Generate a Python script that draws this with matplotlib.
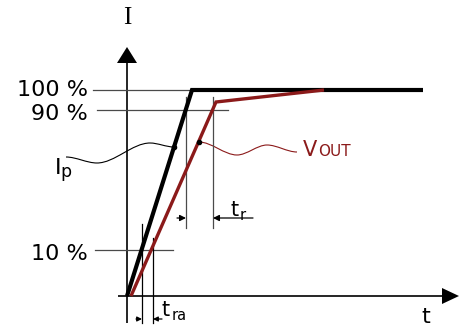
import matplotlib
matplotlib.use("Agg")
import matplotlib.pyplot as plt
from matplotlib.path import Path
from matplotlib.patches import PathPatch, Polygon

# ---- data (time units, level units; origin at axis crossing) ----
ip_t = [0, 65, 296]
ip_level = [0, 206, 206]
vout_t = [4, 89, 197]
vout_level = [0, 194, 206]

level_values = [206, 186, 46]          # positions of 100 %, 90 %, 10 %
level_labels = ["100 %", "90 %", "10 %"]
level_line_start = [-34, -30, -32]
level_line_end = [65, 101, 46]
label_drop = [0, 4, 4]

tr_marks = [59, 86]                   # 90 % crossings
tra_marks = [15, 26]                  # 10 % crossings

RED = "#8b1a1a"
GRAY = "#4a4a4a"

fig = plt.figure(figsize=(4.59, 3.27), dpi=100)
ax = fig.add_axes([0, 0, 1, 1])
ax.set_xlim(-127, 332)
ax.set_ylim(-31, 296)
ax.axis("off")

# axes
ax.plot([0, 0], [-27, 235], color="black", lw=1.2, solid_capstyle="butt")
ax.plot([-9, 318], [0, 0], color="black", lw=1.2, solid_capstyle="butt")
ax.add_patch(Polygon([[0, 249], [-10, 233], [10, 233]], closed=True, color="black", lw=0))
ax.add_patch(Polygon([[332, 0], [315, 8], [315, -8]], closed=True, color="black", lw=0))
ax.text(0, 278, "I", family="Liberation Serif", fontsize=18, ha="center", va="center")
ax.text(299, -21, "t", family="DejaVu Sans", fontsize=16, ha="center", va="center")

# level reference lines and labels
for lv, lab, s, e, d in zip(level_values, level_labels, level_line_start, level_line_end, label_drop):
    ax.plot([s, e], [lv, lv], color=GRAY, lw=0.9)
    ax.text(-39, lv - d, lab, fontsize=16, ha="right", va="center", family="DejaVu Sans")

# tr marker lines
for m in tr_marks:
    ax.plot([m, m], [68, 199], color=GRAY, lw=0.9)
ax.annotate("", xy=(tr_marks[0], 78), xytext=(50, 78),
            arrowprops=dict(arrowstyle="-|>", color="black", lw=0.9, mutation_scale=9, shrinkA=0, shrinkB=0))
ax.annotate("", xy=(tr_marks[1], 78), xytext=(126, 78),
            arrowprops=dict(arrowstyle="-|>", color="black", lw=0.9, mutation_scale=9, shrinkA=0, shrinkB=0))
ax.text(103, 86, "t", fontsize=15, ha="left", va="center")
ax.text(113, 80, "r", fontsize=10.5, ha="left", va="center")

# tra marker lines
ax.plot([tra_marks[0]] * 2, [-27, 72], color="black", lw=0.9)
ax.plot([tra_marks[1]] * 2, [-27, 58], color="black", lw=0.9)
ax.annotate("", xy=(tra_marks[0], -23), xytext=(9, -23),
            arrowprops=dict(arrowstyle="-|>", color="black", lw=0.9, mutation_scale=7, shrinkA=0, shrinkB=0))
ax.annotate("", xy=(tra_marks[1], -23), xytext=(35, -23),
            arrowprops=dict(arrowstyle="-|>", color="black", lw=0.9, mutation_scale=7, shrinkA=0, shrinkB=0))
ax.text(34, -14, "t", fontsize=15, ha="left", va="center")
ax.text(45, -20, "ra", fontsize=10.5, ha="left", va="center")

# signals
ax.plot(ip_t, ip_level, color="black", lw=3.0, solid_joinstyle="miter", solid_capstyle="butt")
ax.plot(vout_t, vout_level, color=RED, lw=2.4, solid_joinstyle="miter", solid_capstyle="butt")

# leader waves
def wave(points, color):
    verts = [points[0]]
    codes = [Path.MOVETO]
    for i in range(len(points) - 1):
        (x0, y0), (x1, y1) = points[i], points[i + 1]
        dx = (x1 - x0) / 3.0
        verts += [(x0 + dx, y0), (x1 - dx, y1), (x1, y1)]
        codes += [Path.CURVE4] * 3
    ax.add_patch(PathPatch(Path(verts, codes), fc="none", ec=color, lw=0.8))

wave([(-61, 139), (-30, 133), (23, 153), (47, 149)], "black")
ax.plot([47], [149], "o", color="black", ms=3)
ax.text(-72, 128, "I", fontsize=16, ha="left", va="center")
ax.text(-67, 124, "p", fontsize=12.5, ha="left", va="center")

wave([(72, 154), (110, 141), (140, 151), (170, 144)], RED)
ax.plot([72], [154], "o", color="black", ms=3)
ax.text(176, 146, "V", fontsize=15, color=RED, ha="left", va="center")
ax.text(191, 144, "OUT", fontsize=11, color=RED, ha="left", va="center")

fig.savefig("out.png", dpi=100)
